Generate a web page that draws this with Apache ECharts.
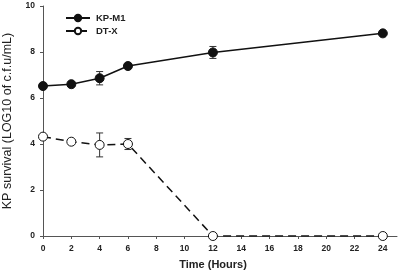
<!DOCTYPE html>
<html>
<head>
<meta charset="utf-8">
<script src="https://cdn.jsdelivr.net/npm/echarts@6/dist/echarts.min.js"></script>
<style>
  html, body { margin: 0; padding: 0; background: #fff; }
  #chart { width: 400px; height: 270px; }
</style>
</head>
<body>
<div id="chart"></div>
<script>
const hours = [0, 2, 4, 6, 12, 24];
const kpM1 = [6.52, 6.6, 6.86, 7.39, 7.98, 8.81];
const kpM1Err = [0.05, 0.08, 0.29, 0.06, 0.26, 0.05];
const dtX = [4.32, 4.1, 3.96, 4.0, 0, 0];
const dtXErr = [0.05, 0.06, 0.52, 0.24, 0, 0];
const xTicks = [0, 2, 4, 6, 8, 10, 12, 14, 16, 18, 20, 22, 24];

const font = 'Liberation Sans, Arial, sans-serif';

function pairs(vals) {
  return hours.map((h, i) => [h, vals[i]]);
}

function errData(vals, errs) {
  return hours.map((h, i) => [h, vals[i] - errs[i], vals[i] + errs[i]]);
}

function errorBars(data) {
  return {
    type: 'custom',
    silent: true,
    z: 1,
    renderItem: function (params, api) {
      const x = api.value(0);
      const lo = api.coord([x, api.value(1)]);
      const hi = api.coord([x, api.value(2)]);
      const cap = 3.5;
      const style = { stroke: '#333', lineWidth: 1 };
      return {
        type: 'group',
        children: [
          { type: 'line', shape: { x1: lo[0], y1: lo[1], x2: hi[0], y2: hi[1] }, style: style },
          { type: 'line', shape: { x1: lo[0] - cap, y1: lo[1], x2: lo[0] + cap, y2: lo[1] }, style: style },
          { type: 'line', shape: { x1: hi[0] - cap, y1: hi[1], x2: hi[0] + cap, y2: hi[1] }, style: style }
        ]
      };
    },
    data: data
  };
}

const chart = echarts.init(document.getElementById('chart'));
chart.setOption({
  animation: false,
  grid: { left: 43, right: 3, top: 6, bottom: 34, outerBoundsMode: 'none' },
  legend: {
    orient: 'vertical',
    left: 65,
    top: 13,
    padding: 0,
    itemGap: 3,
    itemWidth: 24,
    itemHeight: 8,
    textStyle: { fontFamily: font, fontSize: 9.5, fontWeight: 'bold', color: '#222', padding: [0, 0, 0, 1] },
    data: ['KP-M1', 'DT-X']
  },
  xAxis: {
    type: 'value',
    min: 0,
    max: 25,
    interval: 1,
    name: 'Time (Hours)',
    nameLocation: 'middle',
    nameGap: 23,
    nameTextStyle: { fontFamily: font, fontSize: 11, fontWeight: 'bold', color: '#222', padding: [0, 14, 0, 0] },
    axisLine: { lineStyle: { color: '#555', width: 1 } },
    axisTick: { length: 3, lineStyle: { color: '#555' }, customValues: xTicks },
    axisLabel: { fontFamily: font, fontSize: 8.5, fontWeight: 'bold', color: '#222', margin: 8, customValues: xTicks },
    splitLine: { show: false }
  },
  yAxis: {
    type: 'value',
    min: 0,
    max: 10,
    interval: 2,
    name: 'KP survival (LOG10 of c.f.u/mL)',
    nameLocation: 'middle',
    nameGap: 29,
    nameTextStyle: { fontFamily: font, fontSize: 12.5, color: '#222' },
    axisLine: { show: true, lineStyle: { color: '#555', width: 1 } },
    axisTick: { show: true, length: 3, lineStyle: { color: '#555' } },
    axisLabel: { fontFamily: font, fontSize: 8.5, fontWeight: 'bold', color: '#222', margin: 8 },
    splitLine: { show: false }
  },
  series: [
    errorBars(errData(kpM1, kpM1Err)),
    errorBars(errData(dtX, dtXErr)),
    {
      name: 'KP-M1',
      type: 'line',
      z: 3,
      data: pairs(kpM1),
      symbol: 'circle',
      symbolSize: 9,
      lineStyle: { color: '#111', width: 1.5 },
      itemStyle: { color: '#111', borderColor: '#111', borderWidth: 1 }
    },
    {
      name: 'DT-X',
      type: 'line',
      z: 3,
      data: pairs(dtX),
      symbol: 'circle',
      symbolSize: 9,
      lineStyle: { color: '#111', width: 1.5, type: [8, 5] },
      itemStyle: { color: '#fff', borderColor: '#111', borderWidth: 1 }
    }
  ]
});
</script>
</body>
</html>
